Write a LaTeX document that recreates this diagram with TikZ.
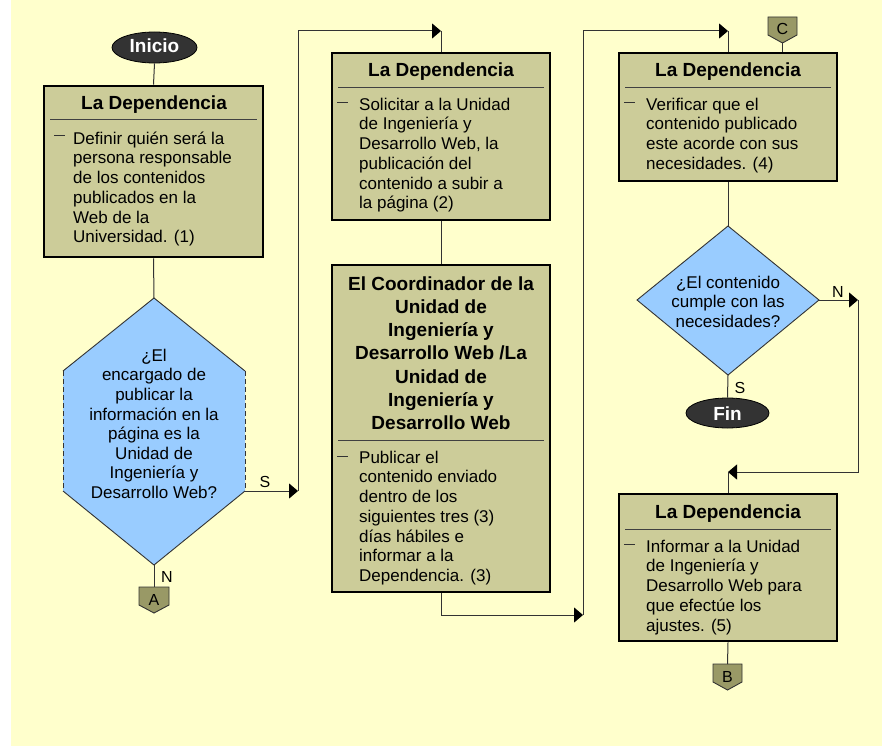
\documentclass[tikz,border=0pt]{standalone}
\usepackage{fontspec}
\setmainfont{Liberation Sans}
\usetikzlibrary{arrows.meta,shapes.geometric}

\definecolor{bgyellow}{HTML}{FFFFCC}
\definecolor{boxfill}{HTML}{CCCC99}
\definecolor{qfill}{HTML}{99CCFF}
\definecolor{termfill}{HTML}{333333}
\definecolor{offfill}{HTML}{999966}
\definecolor{linegray}{HTML}{333333}

% invisible struts fixing the first baseline of multi-line texts
\newcommand\bodystrut{\rule{0pt}{16pt}}
\newcommand\ttlstrut{\rule{0pt}{18pt}}

\begin{document}
\begin{tikzpicture}[x=1pt,y=-1pt,
  box/.style={draw=black, line width=2.8pt, fill=boxfill, rectangle, inner sep=0pt},
  ttl/.style={anchor=base, inner sep=0pt, font=\fontsize{19}{23.2}\selectfont\bfseries},
  ttlm/.style={anchor=north, inner sep=0pt, align=center, font=\fontsize{19}{23.2}\selectfont\bfseries},
  body/.style={anchor=north west, inner sep=0pt, align=left, font=\fontsize{17}{19.7}\selectfont},
  qtext/.style={anchor=north, inner sep=0pt, align=center, font=\fontsize{17}{19.6}\selectfont},
  sepline/.style={draw=black!75, line width=1pt},
  bullet/.style={draw=black!80, line width=1pt},
  term/.style={ellipse, draw=black, line width=0.8pt, fill=termfill, text=white,
    font=\fontsize{19}{23}\selectfont\bfseries, inner sep=0pt},
  qshape/.style={fill=qfill},
  qedge/.style={draw=linegray, line width=0.9pt},
  offp/.style={draw=linegray, line width=0.9pt, fill=offfill},
  offl/.style={anchor=base, inner sep=0pt, font=\fontsize{16}{19}\selectfont},
  lbl/.style={anchor=base, inner sep=0pt, font=\fontsize{16}{19}\selectfont},
  conn/.style={draw=linegray, line width=1pt},
  arr/.style={conn, -{Triangle[length=9pt,width=15pt,color=black]}}
]
% page and background
\useasboundingbox (0,0) rectangle (882,746);
\fill[white] (0,0) rectangle (882,746);
\fill[bgyellow] (11,0) rectangle (882,746);

% ---------- column 1 ----------
\node[term, minimum width=85pt, minimum height=31pt] (ini) at (154.5,47.5) {};
\node[anchor=base, inner sep=0pt, text=white, font=\fontsize{19}{23}\selectfont\bfseries] (init) at (154.5,53) {Inicio};

\node[box, minimum width=219pt, minimum height=171pt] (b1) at (153.5,171.5) {};
\node[ttl] (b1t) at (154,110) {La Dependencia};
\draw[sepline] (50,120) -- (257,120);
\draw[bullet] (54,136) -- (65,136);
\node[body] (b1x) at (73,128) {\bodystrut Definir quién será la\\persona responsable\\de los contenidos\\publicados en la\\Web de la\\Universidad. (1)};

% decision hexagon
\coordinate (q1top) at (154,298);
\coordinate (q1ur) at (245,371);
\coordinate (q1r) at (245,491);
\coordinate (q1bot) at (154,565);
\coordinate (q1l) at (63,491);
\coordinate (q1ul) at (63,371);
\fill[qshape] (q1top) -- (q1ur) -- (q1r) -- (q1bot) -- (q1l) -- (q1ul) -- cycle;
\draw[qedge] (q1ul) -- (q1top) -- (q1ur);
\draw[qedge] (q1l) -- (q1bot) -- (q1r);
\draw[qedge, dash pattern=on 5pt off 3pt] (q1ul) -- (q1l);
\draw[qedge, dash pattern=on 5pt off 3pt] (q1ur) -- (q1r);
\node[qtext] (q1) at (154,345) {\bodystrut ¿El\\encargado de\\publicar la\\información en la\\página es la\\Unidad de\\Ingeniería y\\Desarrollo Web?};

% off-page connector A
\coordinate (Atop) at (154,587);
\path[offp] (Atop) -- ++(15,0) -- ++(0,18) -- ++(-15,8) -- ++(-15,-8) -- ++(0,-18) -- cycle;
\node[offl] (A) at (154,605) {A};

% ---------- column 2 ----------
\node[box, minimum width=218pt, minimum height=167pt] (b2) at (441,136.5) {};
\node[ttl] (b2t) at (441,77) {La Dependencia};
\draw[sepline] (338,88) -- (544,88);
\draw[bullet] (337,103) -- (348,103);
\node[body] (b2x) at (359,94) {\bodystrut Solicitar a la Unidad\\de Ingeniería y\\Desarrollo Web, la\\publicación del\\contenido a subir a\\la página (2)};

\node[box, minimum width=218pt, minimum height=327pt] (b3) at (441,428.5) {};
\node[ttlm] (b3t) at (441,272) {\ttlstrut El Coordinador de la\\Unidad de\\Ingeniería y\\Desarrollo Web /La\\Unidad de\\Ingeniería y\\Desarrollo Web};
\draw[sepline] (338,440) -- (544,440);
\draw[bullet] (337,456) -- (348,456);
\node[body] (b3x) at (359,447) {\bodystrut Publicar el\\contenido enviado\\dentro de los\\siguientes tres (3)\\días hábiles e\\informar a la\\Dependencia. (3)};

% ---------- column 3 ----------
\coordinate (Ctop) at (782.5,17);
\path[offp] (Ctop) -- ++(14.5,0) -- ++(0,18) -- ++(-14.5,8) -- ++(-14.5,-8) -- ++(0,-18) -- cycle;
\coordinate (Cbot) at (782.5,43);
\node[offl] (C) at (782.5,35) {C};

\node[box, minimum width=218pt, minimum height=128pt] (b4) at (728,117) {};
\node[ttl] (b4t) at (728,77) {La Dependencia};
\draw[sepline] (625,88) -- (831,88);
\draw[bullet] (624,103) -- (635,103);
\node[body] (b4x) at (646,94) {\bodystrut Verificar que el\\contenido publicado\\este acorde con sus\\necesidades. (4)};

% decision diamond
\coordinate (q2top) at (728,226);
\coordinate (q2r) at (819,300);
\coordinate (q2bot) at (728,375);
\coordinate (q2l) at (637,300);
\path[qshape, qedge] (q2top) -- (q2r) -- (q2bot) -- (q2l) -- cycle;
\node[qtext, font=\fontsize{17}{19.5}\selectfont] (q2) at (728,272) {\bodystrut ¿El contenido\\cumple con las\\necesidades?};

\node[term, minimum width=83pt, minimum height=30pt] (fin) at (727.5,413) {};
\node[anchor=base, inner sep=0pt, text=white, font=\fontsize{19}{23}\selectfont\bfseries] (fint) at (727.5,420) {Fin};

\node[box, minimum width=218pt, minimum height=147pt] (b5) at (728,567.5) {};
\node[ttl] (b5t) at (728,518) {La Dependencia};
\draw[sepline] (625,529) -- (831,529);
\draw[bullet] (624,544) -- (635,544);
\node[body] (b5x) at (646,536) {\bodystrut Informar a la Unidad\\de Ingeniería y\\Desarrollo Web para\\que efectúe los\\ajustes. (5)};

\coordinate (Btop) at (727.5,664);
\path[offp] (Btop) -- ++(14.5,0) -- ++(0,18) -- ++(-14.5,8) -- ++(-14.5,-8) -- ++(0,-18) -- cycle;
\node[offl] (B) at (727.5,682) {B};

% ---------- connectors ----------
\coordinate (j1) at (298,491);
\coordinate (j2) at (441,31);
\coordinate (j3) at (583,615);
\coordinate (j4) at (728,31);
\coordinate (j5) at (858,300);
\coordinate (j6) at (728,472);

\draw[conn] (ini.south) -- (b1.north);
\draw[conn] (b1.south) -- (q1top);
\draw[conn] (q1bot) -- (Atop);
\draw[arr] (q1r) -- (j1);
\draw[arr] (j1) |- (j2);
\draw[conn] (j2) -- (b2.north);
\draw[conn] (b2.south) -- (b3.north);
\draw[arr] (b3.south) |- (j3);
\draw[arr] (j3) |- (j4);
\draw[conn] (j4) -- (b4.north);
\draw[conn] (Cbot) -- (Cbot |- b4.north);
\draw[conn] (b4.south) -- (q2top);
\draw[arr] (q2r) -- (j5);
\draw[arr] (j5) |- (j6);
\draw[conn] (j6) -- (b5.north);
\draw[conn] (q2bot) -- (fin.north);
\draw[conn] (b5.south) -- (Btop);

% branch labels
\node[lbl] (sA) at (265,487) {S};
\node[lbl] (nA) at (167,582) {N};
\node[lbl] (nB) at (838,297) {N};
\node[lbl] (sB) at (740,393) {S};
\end{tikzpicture}
\end{document}
